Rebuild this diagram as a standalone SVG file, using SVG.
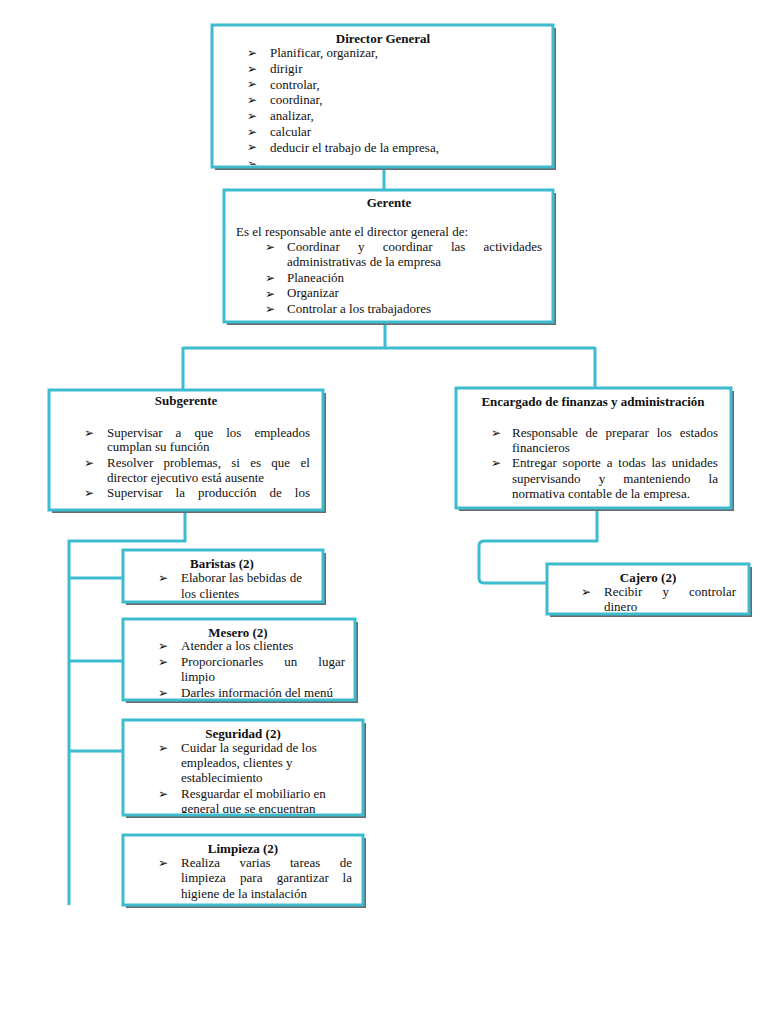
<svg xmlns="http://www.w3.org/2000/svg" width="768" height="1024" viewBox="0 0 768 1024">
<style>
.box{fill:#fff;stroke:#3DBCD0;stroke-width:3}
.sh{fill:#6a6a6a}
.t{font-family:"Liberation Serif","Times New Roman",serif;font-size:13px;fill:#111}
.b{font-weight:bold;text-anchor:middle}
.bl{font-family:"DejaVu Sans",sans-serif;font-size:12px;fill:#111}
.con{fill:none;stroke:#3DBCD0;stroke-width:3}
</style>
<defs>
<clipPath id="cDir"><rect x="214" y="27" width="337" height="138"/></clipPath>
<clipPath id="cGer"><rect x="226" y="192" width="325" height="128"/></clipPath>
<clipPath id="cSub"><rect x="51" y="392" width="270" height="116"/></clipPath>
<clipPath id="cEnc"><rect x="458" y="390" width="271" height="116"/></clipPath>
<clipPath id="cBar"><rect x="125" y="552" width="196" height="48"/></clipPath>
<clipPath id="cMes"><rect x="125" y="621" width="228" height="77"/></clipPath>
<clipPath id="cSeg"><rect x="125" y="722" width="236" height="91"/></clipPath>
<clipPath id="cLim"><rect x="125" y="837" width="236" height="66"/></clipPath>
<clipPath id="cCaj"><rect x="549" y="566" width="198" height="46"/></clipPath>
</defs>
<rect width="768" height="1024" fill="#fff"/>

<g id="connectors">
<path class="con" d="M384 167 V190"/>
<path class="con" d="M385 322 V348 M183 348 H595 M183 347 V390 M595 347 V388"/>
<path class="con" d="M185 510 V541 H69 V905"/>
<path class="con" d="M69 578 H123 M69 661 H123 M69 751 H123"/>
<path class="con" d="M597 508 V541 H484 Q479 541 479 546 V578 Q479 583 484 583 H547"/>
</g>

<g id="director">
<rect class="sh" x="215" y="28" width="341" height="142"/>
<rect class="box" x="212" y="25" width="341" height="142"/>
<g clip-path="url(#cDir)">
<text class="t b" x="383" y="43">Director General</text>
<g class="bl"><text x="247" y="57">➢</text><text x="247" y="73">➢</text><text x="247" y="88">➢</text><text x="247" y="104">➢</text><text x="247" y="120">➢</text><text x="247" y="136">➢</text><text x="247" y="151">➢</text><text x="247" y="168">➢</text></g>
<text class="t" x="270" y="57">Planificar, organizar,</text>
<text class="t" x="270" y="73">dirigir</text>
<text class="t" x="270" y="89">controlar,</text>
<text class="t" x="270" y="104">coordinar,</text>
<text class="t" x="270" y="120">analizar,</text>
<text class="t" x="270" y="136">calcular</text>
<text class="t" x="270" y="152">deducir el trabajo de la empresa,</text>
</g>
</g>

<g id="gerente">
<rect class="sh" x="227" y="193" width="329" height="132"/>
<rect class="box" x="224" y="190" width="329" height="132"/>
<g clip-path="url(#cGer)">
<text class="t b" x="389" y="207">Gerente</text>
<text class="t" x="236" y="236">Es el responsable ante el director general de:</text>
<g class="bl"><text x="265" y="251">➢</text><text x="265" y="282">➢</text><text x="265" y="298">➢</text><text x="265" y="313">➢</text></g>
<text class="t" y="251"><tspan x="287">Coordinar</tspan> <tspan x="358">y</tspan> <tspan x="382.8">coordinar</tspan> <tspan x="450.9">las</tspan> <tspan x="483.6">actividades</tspan></text>
<text class="t" x="287" y="266">administrativas de la empresa</text>
<text class="t" x="287" y="282">Planeación</text>
<text class="t" x="287" y="297">Organizar</text>
<text class="t" x="287" y="313">Controlar a los trabajadores</text>
</g>
</g>

<g id="subgerente">
<rect class="sh" x="52" y="393" width="274" height="120"/>
<rect class="box" x="49" y="390" width="274" height="120"/>
<g clip-path="url(#cSub)">
<text class="t b" x="186" y="405">Subgerente</text>
<g class="bl"><text x="84" y="437">➢</text><text x="84" y="467">➢</text><text x="84" y="497">➢</text></g>
<text class="t" y="437"><tspan x="107">Supervisar</tspan> <tspan x="175.6">a</tspan> <tspan x="194.4">que</tspan> <tspan x="226.2">los</tspan> <tspan x="254.4">empleados</tspan></text>
<text class="t" x="107" y="451">cumplan su función</text>
<text class="t" y="467"><tspan x="107">Resolver</tspan> <tspan x="163.5">problemas,</tspan> <tspan x="231.2">si</tspan> <tspan x="250.2">es</tspan> <tspan x="271.3">que</tspan> <tspan x="300.4">el</tspan></text>
<text class="t" x="107" y="482">director ejecutivo está ausente</text>
<text class="t" y="497"><tspan x="107">Supervisar</tspan> <tspan x="175.6">la</tspan> <tspan x="198">producción</tspan> <tspan x="269.5">de</tspan> <tspan x="294.8">los</tspan></text>
</g>
</g>

<g id="encargado">
<rect class="sh" x="459" y="391" width="275" height="120"/>
<rect class="box" x="456" y="388" width="275" height="120"/>
<g clip-path="url(#cEnc)">
<text class="t b" x="593" y="406">Encargado de finanzas y administración</text>
<g class="bl"><text x="491" y="437">➢</text><text x="491" y="467">➢</text></g>
<text class="t" y="437"><tspan x="512">Responsable</tspan> <tspan x="585.5">de</tspan> <tspan x="605.6">preparar</tspan> <tspan x="656.7">los</tspan> <tspan x="679.7">estados</tspan></text>
<text class="t" x="512" y="452">financieros</text>
<text class="t" y="467"><tspan x="512">Entregar</tspan> <tspan x="562.6">soporte</tspan> <tspan x="606.7">a</tspan> <tspan x="618.3">todas</tspan> <tspan x="651.5">las</tspan> <tspan x="671.7">unidades</tspan></text>
<text class="t" y="483"><tspan x="512">supervisando</tspan> <tspan x="598.7">y</tspan> <tspan x="623.3">manteniendo</tspan> <tspan x="708.6">la</tspan></text>
<text class="t" x="512" y="498">normativa contable de la empresa.</text>
</g>
</g>

<g id="baristas">
<rect class="sh" x="126" y="553" width="200" height="52"/>
<rect class="box" x="123" y="550" width="200" height="52"/>
<g clip-path="url(#cBar)">
<text class="t b" x="222" y="568">Baristas (2)</text>
<g class="bl"><text x="158" y="582">➢</text></g>
<text class="t" x="181" y="582">Elaborar las bebidas de</text>
<text class="t" x="181" y="598">los clientes</text>
</g>
</g>

<g id="mesero">
<rect class="sh" x="126" y="622" width="232" height="81"/>
<rect class="box" x="123" y="619" width="232" height="81"/>
<g clip-path="url(#cMes)">
<text class="t b" x="238" y="637">Mesero (2)</text>
<g class="bl"><text x="158" y="650">➢</text><text x="158" y="666">➢</text><text x="158" y="697">➢</text></g>
<text class="t" x="181" y="650">Atender a los clientes</text>
<text class="t" y="666"><tspan x="181">Proporcionarles</tspan> <tspan x="284.3">un</tspan> <tspan x="318.3">lugar</tspan></text>
<text class="t" x="181" y="681">limpio</text>
<text class="t" x="181" y="697">Darles información del menú</text>
</g>
</g>

<g id="seguridad">
<rect class="sh" x="126" y="723" width="240" height="95"/>
<rect class="box" x="123" y="720" width="240" height="95"/>
<g clip-path="url(#cSeg)">
<text class="t b" x="243" y="738">Seguridad (2)</text>
<g class="bl"><text x="158" y="752">➢</text><text x="158" y="798">➢</text></g>
<text class="t" x="181" y="752">Cuidar la seguridad de los</text>
<text class="t" x="181" y="767">empleados, clientes y</text>
<text class="t" x="181" y="782">establecimiento</text>
<text class="t" x="181" y="798">Resguardar el mobiliario en</text>
<text class="t" x="181" y="813">general que se encuentran</text>
</g>
</g>

<g id="limpieza">
<rect class="sh" x="126" y="838" width="240" height="70"/>
<rect class="box" x="123" y="835" width="240" height="70"/>
<g clip-path="url(#cLim)">
<text class="t b" x="243" y="853">Limpieza (2)</text>
<g class="bl"><text x="158" y="867">➢</text></g>
<text class="t" y="867"><tspan x="181">Realiza</tspan> <tspan x="239.5">varias</tspan> <tspan x="290">tareas</tspan> <tspan x="339.8">de</tspan></text>
<text class="t" y="882"><tspan x="181">limpieza</tspan> <tspan x="240.1">para</tspan> <tspan x="276.8">garantizar</tspan> <tspan x="342.6">la</tspan></text>
<text class="t" x="181" y="898">higiene de la instalación</text>
</g>
</g>

<g id="cajero">
<rect class="sh" x="550" y="567" width="202" height="50"/>
<rect class="box" x="547" y="564" width="202" height="50"/>
<g clip-path="url(#cCaj)">
<text class="t b" x="648" y="582">Cajero (2)</text>
<g class="bl"><text x="581" y="596">➢</text></g>
<text class="t" y="596"><tspan x="604">Recibir</tspan> <tspan x="662.5">y</tspan> <tspan x="689.1">controlar</tspan></text>
<text class="t" x="604" y="611">dinero</text>
</g>
</g>
</svg>
